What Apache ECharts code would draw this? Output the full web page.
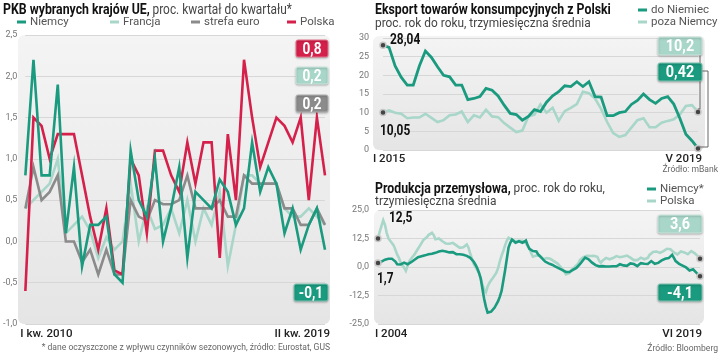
<!DOCTYPE html>
<html>
<head>
<meta charset="utf-8">
<script src="https://cdn.jsdelivr.net/npm/echarts@6/dist/echarts.min.js"></script>
<style>
	html, body { margin: 0; padding: 0; background: #fff; }
	#main { width: 720px; height: 354px; }
</style>
</head>
<body>
<div id="main"></div>
<script>
	var FONT = "Roboto, sans-serif";
	var RZ = ['I', 'II', 'III', 'IV', 'V', 'VI', 'VII', 'VIII', 'IX', 'X', 'XI', 'XII'];

	// PKB, kwartały I kw. 2010 - II kw. 2019
	var kwartaly = [];
	for (var r = 2010; r <= 2019; r++) {
		for (var q = 0; q < 4; q++) {
			if (r == 2019 && q > 1) break;
			kwartaly.push(RZ[q] + ' kw. ' + r);
		}
	}
	var pkbNiemcy = [0.8, 2.2, 0.8, 0.8, 1.9, 0.1, 0.9, -0.3, 0.2, 0.2, 0.3, -0.4, -0.5, 1.1, 0.5, 0.3, 1.0, 0.0, 0.4, 0.9,
		-0.2, 0.6, 0.5, 0.4, 0.75, 0.6, 0.2, 0.4, 1.2, 0.6, 0.9, 0.7, 0.1, 0.4, -0.1, 0.2, 0.4, -0.1];
	var pkbFrancja = [0.4, 0.5, 0.6, 0.7, 1.0, 0.1, 0.2, 0.3, 0.13, -0.2, 0.05, -0.1, 0.0, 0.7, 0.0, 0.4, 0.15, 0.2, 0.4, 0.1,
		0.5, 0.0, 0.4, 0.2, 0.6, -0.3, 0.2, 0.8, 0.8, 0.7, 0.7, 0.7, 0.4, 0.3, 0.3, 0.4, 0.3, 0.2];
	var pkbEuro = [0.4, 0.9, 0.5, 0.6, 0.8, 0.0, 0.0, -0.25, -0.1, -0.4, -0.1, -0.4, -0.4, 0.5, 0.3, 0.25, 0.5, 0.45, 0.45, 0.5,
		0.8, 0.4, 0.4, 0.4, 0.5, 0.3, 0.3, 0.8, 0.7, 0.7, 0.7, 0.7, 0.4, 0.4, 0.2, 0.2, 0.4, 0.2];
	var pkbPolska = [-0.6, 1.5, 1.4, 1.0, 1.3, 1.3, 1.3, 0.8, 0.3, -0.1, 0.4, -0.35, -0.4, 1.0, 0.8, 0.1, 1.1, 1.1, 0.8, 0.6,
		1.2, 0.7, 1.2, 1.2, -0.2, 1.3, 0.5, 2.2, 1.5, 0.9, 1.2, 1.5, 1.4, 1.2, 1.5, 0.5, 1.5, 0.8];

	// Eksport, I 2015 - V 2019
	var miesiaceEks = [];
	for (var r = 2015; r <= 2019; r++) {
		for (var m = 0; m < 12; m++) {
			if (r == 2019 && m > 4) break;
			miesiaceEks.push(RZ[m] + ' ' + r);
		}
	}
	var eksDoNiemiec = [28.04, 27.5, 22.5, 19.5, 17.4, 17.4, 22.5, 26.5, 24.8, 22.3, 20.0, 19.6, 17.4, 17.4, 13.5, 13.8, 14.3, 16.5,
		16.0, 14.5, 12.0, 9.8, 9.5, 8.0, 9.0, 10.8, 10.3, 12.8, 14.5, 15.6, 17.2, 17.0, 18.3, 17.0, 18.3, 14.3, 14.2, 9.2,
		9.2, 10.0, 10.3, 12.2, 13.3, 15.0, 13.5, 12.5, 13.8, 14.3, 12.3, 8.5, 4.2, 2.5, 0.42];
	var eksPozaNiemcy = [10.05, 10.6, 10.0, 9.7, 8.5, 8.7, 8.7, 9.7, 8.6, 7.5, 8.0, 9.3, 9.5, 10.3, 7.5, 9.3, 8.7, 10.8,
		9.0, 8.8, 7.2, 6.0, 4.8, 5.2, 9.0, 9.5, 12.2, 10.0, 11.3, 7.8, 10.4, 11.3, 12.3, 15.6, 15.2, 13.8, 11.0, 7.5,
		4.5, 3.5, 4.0, 6.0, 8.0, 8.5, 6.1, 6.1, 7.3, 7.8, 8.2, 9.5, 11.8, 12.0, 10.2];

	// Produkcja przemysłowa, I 2004 - VI 2019
	var miesiaceProd = [];
	for (var r = 2004; r <= 2019; r++) {
		for (var m = 0; m < 12; m++) {
			if (r == 2019 && m > 5) break;
			miesiaceProd.push(RZ[m] + ' ' + r);
		}
	}
	var prodNiemcy = [
		1.7, 2.0, 2.4, 2.7, 3.2, 3.4, 3.6, 3.8, 3.6, 3.1, 2.4, 1.2,
		0.9, 1.1, 1.4, 1.9, 1.6, 1.2, 1.5, 2.1, 2.6, 3.2, 3.9, 4.3,
		4.5, 4.7, 4.9, 5.1, 5.3, 5.6, 5.5, 5.8, 6.0, 6.2, 6.6, 6.8,
		7.0, 7.1, 7.3, 6.8, 6.2, 6.4, 6.7, 6.5, 6.0, 5.6, 5.4, 5.6,
		5.5, 5.4, 5.2, 4.9, 4.6, 4.0, 3.2, 2.3, 1.0, -0.5, -2.5, -5.0,
		-9.5, -14.0, -17.5, -20.0, -20.6, -19.6, -19.0, -17.8, -17.0, -15.0, -13.0, -10.5,
		-6.0, -1.5, 3.5, 8.5, 10.6, 12.0, 11.3, 10.6, 11.0, 11.3, 10.8, 10.6,
		11.2, 11.6, 9.5, 8.0, 7.5, 7.0, 7.0, 6.8, 5.5, 4.8, 4.0, 3.2,
		2.4, 2.0, 1.6, 1.4, 1.0, 0.6, 0.2, -0.3, -0.6, -1.0, -1.4, -1.7,
		-2.2, -2.5, -2.2, -1.7, -1.3, -1.0, -0.4, 0.4, 1.2, 2.2, 3.2, 4.1,
		4.2, 3.4, 2.6, 1.9, 1.3, 0.8, 0.4, 0.3, 0.5, 0.4, 0.3, 0.2,
		-0.2, 0.2, 0.5, 0.3, 0.0, 0.3, 0.8, 1.2, 1.0, 0.7, 0.4, 0.5,
		1.0, 1.6, 1.9, 1.3, 0.6, 0.4, 1.0, 1.7, 1.9, 1.4, 1.1, 1.3,
		2.0, 2.6, 2.0, 1.4, 1.2, 1.8, 2.5, 2.9, 3.2, 3.6, 3.8, 3.9,
		4.5, 5.3, 4.0, 2.6, 2.0, 1.4, 1.0, 0.6, 0.3, -0.2, -0.8, -1.5,
		-1.2, -1.0, -1.8, -2.6, -3.3, -4.1];
	var prodPolska = [
		12.5, 15.5, 18.0, 20.5, 18.5, 15.0, 12.5, 11.5, 10.8, 9.5, 7.5, 5.5,
		4.0, 1.9, 0.8, -0.3, -1.7, 0.5, 2.6, 3.6, 4.6, 5.5, 6.8, 8.0,
		8.8, 10.5, 11.8, 12.3, 13.0, 14.0, 14.5, 15.0, 14.0, 12.2, 12.0, 12.5,
		12.0, 11.3, 10.8, 10.3, 9.9, 10.2, 10.8, 10.6, 10.2, 9.5, 8.8, 8.4,
		8.5, 8.7, 9.3, 9.9, 8.5, 5.8, 3.5, 1.3, 0.0, -1.3, -2.6, -5.0,
		-7.8, -10.0, -11.0, -8.5, -7.0, -5.8, -4.8, -4.2, -2.5, -0.5, 2.5, 5.0,
		7.0, 9.5, 11.5, 12.8, 12.5, 12.0, 11.5, 11.3, 11.3, 11.5, 11.6, 11.5,
		11.0, 10.4, 9.2, 8.0, 6.0, 4.5, 4.3, 5.0, 5.5, 5.0, 4.2, 3.4,
		3.6, 3.9, 4.1, 3.6, 3.1, 2.6, 2.1, 1.6, 1.1, 0.0, -1.0, -1.8,
		-3.2, -3.8, -2.6, -1.4, -0.6, 0.0, 0.4, 1.5, 3.0, 3.8, 4.3, 4.8,
		4.9, 4.7, 4.8, 4.6, 4.9, 4.8, 4.5, 2.8, 1.9, 2.8, 3.6, 4.0,
		3.8, 3.4, 3.4, 3.9, 4.4, 4.8, 4.6, 4.3, 4.1, 4.6, 5.4, 5.0,
		4.4, 4.1, 3.6, 3.0, 2.6, 3.0, 3.6, 4.1, 3.8, 3.4, 3.3, 4.0,
		5.3, 6.0, 6.6, 7.0, 6.8, 6.4, 6.2, 6.6, 7.0, 7.5, 8.0, 8.4,
		7.8, 7.0, 6.4, 5.8, 5.5, 6.0, 6.8, 7.0, 6.4, 5.8, 5.6, 6.2,
		7.0, 6.6, 6.0, 5.5, 4.6, 3.6];

	var C_NIEMCY = '#1a9a7e', C_JASNY = '#a8d6c9', C_SZARY = '#8b8b8b', C_CZERWONY = '#d4204a';

	function przecinek(v) {
		return v.toFixed(1).replace('.', ',');
	}

	// pierwszy i ostatni punkt serii
	function punkty(kat, dane) {
		return {
			symbol: 'circle',
			symbolSize: 6,
			itemStyle: { color: '#444', borderColor: '#c8c8c8', borderWidth: 1.5 },
			label: { show: false },
			data: [
				{ coord: [kat[0], dane[0]] },
				{ coord: [kat[kat.length - 1], dane[dane.length - 1]] }
			]
		};
	}

	function osX(idx, kat, margin, pad) {
		return {
			type: 'category', gridIndex: idx, data: kat, boundaryGap: false,
			axisLine: { show: false }, axisTick: { show: false },
			axisLabel: {
				interval: function(i) { return i === 0 || i === kat.length - 1; },
				alignMinLabel: 'left', alignMaxLabel: 'right', padding: pad,
				margin: margin, fontFamily: FONT, fontSize: 11.5, color: '#222', fontWeight: 500
			}
		};
	}

	function osY(idx, min, max, step, fmt, margin) {
		return {
			type: 'value', gridIndex: idx, min: min, max: max, interval: step,
			axisLine: { show: false }, axisTick: { show: false },
			axisLabel: { formatter: fmt, margin: margin, fontFamily: FONT, fontSize: 9, color: '#777' },
			splitLine: { lineStyle: { color: '#d7d7d7', width: 1 } }
		};
	}

	function linia(name, idx, dane, kolor, szer, z) {
		return {
			name: name, type: 'line', xAxisIndex: idx, yAxisIndex: idx, data: dane,
			showSymbol: false, z: z,
			lineStyle: { color: kolor, width: szer, join: 'miter' },
			itemStyle: { color: kolor }
		};
	}

	function tlo(x, y, w, h) {
		return {
			type: 'rect', z: -1, shape: { x: x, y: y, width: w, height: h, r: 6 },
			style: {
				fill: new echarts.graphic.LinearGradient(0, 0, 0, 1, [
					{ offset: 0, color: '#f4f4f4' }, { offset: 1, color: '#e5e5e5' }
				])
			}
		};
	}

	function ramka(x, y, w, h, kolor, obrys, tekst, rozm) {
		return [{
			type: 'rect', z: 20, shape: { x: x, y: y, width: w, height: h, r: 2 },
			style: { fill: kolor, stroke: obrys, lineWidth: 1, shadowBlur: 2, shadowOffsetY: 1, shadowColor: 'rgba(0,0,0,0.25)' }
		}, {
			type: 'text', z: 21, x: x + w / 2, y: y + h / 2 + 1, scaleX: 0.85,
			style: { text: tekst, fill: '#fff', font: 'bold ' + rozm + 'px ' + FONT, textAlign: 'center', textVerticalAlign: 'middle' }
		}];
	}

	function napis(x, y, tekst, font, kolor, align, sx) {
		return {
			type: 'text', z: 22, x: x, y: y, scaleX: sx || 1,
			style: { text: tekst, font: font, fill: kolor, textAlign: align || 'left', textVerticalAlign: 'middle' }
		};
	}

	// tytul: czesc pogrubiona + zwykla, zwezony
	function tytul(x, y, tekst, rb, rn, sx) {
		return {
			type: 'text', z: 22, x: x, y: y, scaleX: sx,
			style: {
				text: tekst, textVerticalAlign: 'middle',
				rich: {
					b: { font: 'bold ' + rb + 'px ' + FONT, fill: '#111' },
					n: { font: rn + 'px ' + FONT, fill: '#444' }
				}
			}
		};
	}

	function legenda(nazwy, left, top, orient) {
		return {
			data: nazwy, left: left, top: top, orient: orient || 'horizontal', icon: 'rect',
			itemWidth: 9, itemHeight: 3, itemGap: 0, padding: 0,
			textStyle: { fontFamily: FONT, fontSize: 11.5, color: '#555', padding: [0, 0, 0, -1] },
			selectedMode: false
		};
	}

	var graf = [
		tlo(18, 35, 312, 289),
		tlo(373, 36, 332, 114),
		tlo(374, 210, 330, 114),
		tytul(3, 10, '{b|PKB wybranych krajów UE,} {n|proc. kwartał do kwartału*}', 15, 14.5, 0.82),
		tytul(375, 10, '{b|Eksport towarów konsumpcyjnych z Polski}', 14, 13, 0.88),
		tytul(375, 24, '{n|proc. rok do roku, trzymiesięczna średnia}', 14, 13.5, 0.88),
		tytul(375, 189, '{b|Produkcja przemysłowa,} {n|proc. rok do roku,}', 14, 13.5, 0.88),
		tytul(375, 202, '{n|trzymiesięczna średnia}', 14, 13.5, 0.88),
		napis(330, 348, '* dane oczyszczone z wpływu czynników sezonowych, źródło: Eurostat, GUS', '9.5px ' + FONT, '#666', 'right', 0.9),
		napis(718, 170, 'Źródło: mBank', '9.5px ' + FONT, '#666', 'right', 0.9),
		napis(718, 349, 'Źródło: Bloomberg', '9.5px ' + FONT, '#666', 'right', 0.9),
		napis(390, 40, '28,04', 'bold 14px ' + FONT, '#111', 'left', 0.85),
		napis(380, 131, '10,05', 'bold 14px ' + FONT, '#111', 'left', 0.85),
		napis(389, 218, '12,5', 'bold 14px ' + FONT, '#111', 'left', 0.85),
		napis(377, 279, '1,7', 'bold 14px ' + FONT, '#111', 'left', 0.85),
		{
			type: 'polyline', z: 15, shape: { points: [[702, 54], [700, 54], [700, 109], [698, 109]] },
			style: { stroke: '#666', lineWidth: 1, fill: null }
		},
		{
			type: 'polyline', z: 15, shape: { points: [[702, 71], [708, 71], [708, 147], [699, 147]] },
			style: { stroke: '#666', lineWidth: 1, fill: null }
		}
	].concat(
		ramka(296, 40, 32, 17, C_CZERWONY, '#e8758f', '0,8', 16),
		ramka(296, 67, 32, 17, C_JASNY, '#cfe9e1', '0,2', 16),
		ramka(296, 95, 32, 17, C_SZARY, '#b2b2b2', '0,2', 16),
		ramka(294, 284, 34, 17, C_NIEMCY, '#7fc4b3', '-0,1', 16),
		ramka(658, 37, 44, 18, C_JASNY, '#cfe9e1', '10,2', 17),
		ramka(658, 63, 44, 18, C_NIEMCY, '#7fc4b3', '0,42', 17),
		ramka(658, 215, 44, 18, C_JASNY, '#cfe9e1', '3,6', 17),
		ramka(658, 284, 44, 17, C_NIEMCY, '#7fc4b3', '-4,1', 17)
	);

	var myChart = echarts.init(document.getElementById('main'), null, { renderer: 'canvas' });

	var option = {
		animation: false,
		backgroundColor: '#fff',
		textStyle: { fontFamily: FONT },
		legend: [
			legenda(['Niemcy'], 17, 16),
			legenda(['Francja'], 110, 16),
			legenda(['strefa euro'], 191, 16),
			legenda(['Polska'], 287, 16),
			legenda(['do Niemiec', 'poza Niemcy'], 638, 4, 'vertical'),
			legenda(['Niemcy*', 'Polska '], 647, 183, 'vertical')
		],
		grid: [
			{ left: 23, right: 395, top: 35, bottom: 30 },
			{ left: 383, right: 22, top: 38, bottom: 204 },
			{ left: 378, right: 20, top: 210, bottom: 30 }
		],
		xAxis: [
			osX(0, kwartaly, 4, [0, -5, 0, -5]),
			osX(1, miesiaceEks, 3, [0, -4, 0, -10]),
			osX(2, miesiaceProd, 4, [0, -2, 0, -3])
		],
		yAxis: [
			osY(0, -1, 2.5, 0.5, przecinek, 8),
			osY(1, 0, 30, 5, function(v) { return v; }, 14),
			osY(2, -25, 25, 12.5, przecinek, 9)
		],
		graphic: { elements: graf },
		series: [
			linia('Francja', 0, pkbFrancja, C_JASNY, 2.6, 2),
			linia('strefa euro', 0, pkbEuro, C_SZARY, 2.6, 3),
			linia('Polska', 0, pkbPolska, C_CZERWONY, 2.6, 4),
			linia('Niemcy', 0, pkbNiemcy, C_NIEMCY, 2.6, 5),
			Object.assign(linia('poza Niemcy', 1, eksPozaNiemcy, C_JASNY, 2.6, 2), { markPoint: punkty(miesiaceEks, eksPozaNiemcy) }),
			Object.assign(linia('do Niemiec', 1, eksDoNiemiec, C_NIEMCY, 2.8, 3), { markPoint: punkty(miesiaceEks, eksDoNiemiec) }),
			Object.assign(linia('Polska ', 2, prodPolska, C_JASNY, 2.6, 2), { markPoint: punkty(miesiaceProd, prodPolska) }),
			Object.assign(linia('Niemcy*', 2, prodNiemcy, C_NIEMCY, 2.6, 3), { markPoint: punkty(miesiaceProd, prodNiemcy) })
		]
	};

	myChart.setOption(option);
</script>
</body>
</html>
